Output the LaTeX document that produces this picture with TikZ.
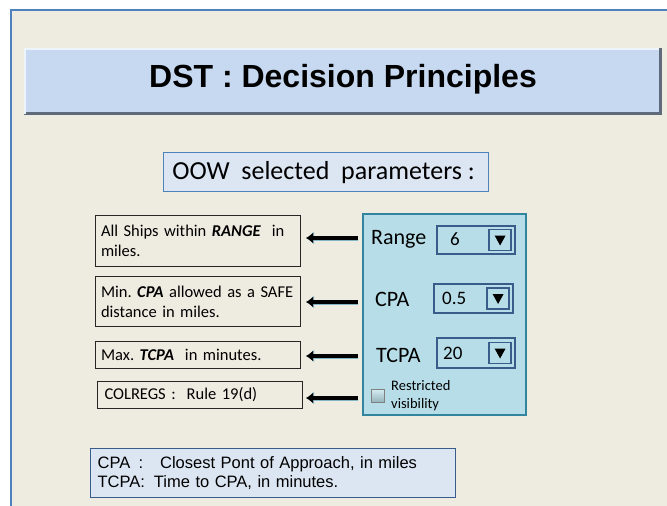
\documentclass[tikz,border=0pt]{standalone}
\usepackage{fontspec}
\setmainfont{Carlito}
\newfontfamily\arialf{Liberation Sans}
\usetikzlibrary{arrows.meta,calc}
\definecolor{bgc}{HTML}{EEECE1}
\definecolor{framec}{HTML}{4F81BD}
\definecolor{titlec}{HTML}{C6D9F1}
\definecolor{paleblue}{HTML}{DCE6F2}
\definecolor{panelc}{HTML}{B7DEE8}
\definecolor{panelb}{HTML}{31859C}
\definecolor{darkb}{HTML}{385D8A}
\definecolor{shadowc}{HTML}{5F6B7A}
\tikzset{
  titlebox/.style={fill=titlec, draw=none, anchor=north west, inner sep=0pt},
  parambox/.style={fill=paleblue, draw=framec, line width=1.2pt, anchor=north west, inner sep=0pt},
  infobox/.style={draw=black!85, line width=1pt, fill=bgc, anchor=north west, inner xsep=5.5pt, inner ysep=2pt, align=left, text width=194pt, font=\fontsize{16.5}{20}\selectfont\frenchspacing},
  panelbox/.style={fill=panelc, draw=panelb, line width=1.5pt, anchor=north west, inner sep=0pt},
  ddbox/.style={draw=darkb, line width=2pt, fill=panelc, anchor=north west, inner sep=0pt},
  btnbox/.style={draw=darkb, line width=1.8pt, fill=panelc, anchor=east, minimum width=22pt, minimum height=21pt, inner sep=0pt},
  lbl/.style={anchor=west, inner sep=0pt, font=\fontsize{22}{24}\selectfont},
  val/.style={anchor=west, inner sep=0pt, font=\fontsize{19}{22}\selectfont},
  arr/.style={draw=black, line width=3.6pt, -{Latex[length=7pt,width=11pt]}, preaction={draw=panelb!60, line width=5pt, -{Latex[length=8pt,width=13pt]}}},
  legendbox/.style={fill=paleblue, draw=darkb, line width=1.2pt, anchor=north west, inner xsep=7pt, inner ysep=2pt, align=left, font=\arialf\fontsize{16.5}{19.5}\selectfont\frenchspacing}
}
\begin{document}
\begin{tikzpicture}[x=1pt,y=-1pt]
\useasboundingbox (0,0) rectangle (667,506);
\fill[white] (0,0) rectangle (667,506);
\fill[bgc] (11,10) rectangle (667,506);
\draw[framec, line width=2pt] (11,506) -- (11,10) -- (667,10);

% title
\node (title) [titlebox, minimum width=638pt, minimum height=67pt] at (24,48) {};
\draw[shadowc, line width=3pt] ([yshift=1.5pt]title.south west) -- ([xshift=-1.5pt,yshift=1.5pt]title.south east) -- ([xshift=-1.5pt]title.north east);
\draw[white!70!titlec, line width=2pt] ([xshift=1pt,yshift=1pt]title.south west) -- ([xshift=1pt,yshift=-1pt]title.north west) -- ([xshift=-3pt,yshift=-1pt]title.north east);
\node (titletxt) [inner sep=0pt, font=\arialf\bfseries\fontsize{32}{34}\selectfont] at (343,79) {DST : Decision Principles};

% OOW box
\node (oow) [parambox, minimum width=325pt, minimum height=39pt] at (163,152) {};
\node (oowtxt) [inner sep=0pt, font=\fontsize{26}{28}\selectfont] at ([xshift=-2.5pt]oow.center) {OOW~ selected~ parameters :};

% info boxes
\node (b1) [infobox, minimum height=51pt] at (95,215) {All Ships within \textbf{\textit{RANGE}}~ in\\miles.};
\node (b2) [infobox, minimum height=50pt] at (95,276) {Min. \textbf{\textit{CPA}} allowed as a SAFE\\distance in miles.};
\node (b3) [infobox, minimum height=27pt] at (95,341) {Max. \textbf{\textit{TCPA}}~ in minutes.};
\node (b4) [infobox, minimum height=27pt, inner xsep=7pt, text width=191pt] at (97,381) {COLREGS :~ Rule 19(d)};

% panel
\node (panel) [panelbox, minimum width=163pt, minimum height=201pt] at (362,213) {};
\node (lrange) [lbl] at (371,239) {Range};
\node (lcpa) [lbl] at (375,299) {CPA};
\node (ltcpa) [lbl] at (376,355) {TCPA};

\node (dd1) [ddbox, minimum width=78pt, minimum height=28pt] at (436,225) {};
\node (dd2) [ddbox, minimum width=79pt, minimum height=29pt] at (433,283) {};
\node (dd3) [ddbox, minimum width=78pt, minimum height=30pt] at (436,337) {};
\node (v1) [val] at (450,239) {6};
\node (v2) [val] at (442,298.5) {0.5};
\node (v3) [val] at (443,353) {20};
\foreach \d in {1,2,3}{
  \node (btn\d) [btnbox] at ([xshift=-4pt]dd\d.east) {};
  \fill[black] ($(btn\d.center)+(-5.5,-4.5)$) -- ($(btn\d.center)+(5.5,-4.5)$) -- ($(btn\d.center)+(0,5.5)$) -- cycle;
}

% checkbox
\node (chk) [draw=black!50, line width=1pt, top color=panelc!60!white, bottom color=panelc!80!black, minimum size=13pt, inner sep=0pt, anchor=north west] at (371,389) {};
\node (chktxt) [anchor=west, inner sep=0pt, align=left, font=\fontsize{14.5}{17.5}\selectfont] at (391,395.5) {Restricted\\visibility};

% arrows
\draw[arr] ([xshift=-4pt]panel.west |- 0,238) -- ([xshift=5pt]b1.east |- 0,238);
\draw[arr] ([xshift=-4pt]panel.west |- 0,302) -- ([xshift=5pt]b2.east |- 0,302);
\draw[arr] ([xshift=-4pt]panel.west |- 0,356) -- ([xshift=5pt]b3.east |- 0,356);
\draw[arr] ([xshift=-4pt]panel.west |- 0,398) -- ([xshift=3pt]b4.east |- 0,398);

% legend
\node (legend) [legendbox, minimum width=365pt, minimum height=49pt, text width=351pt] at (90,448) {\makebox[41pt][l]{CPA}:\hspace{17pt}Closest Pont of Approach, in miles\\TCPA:\hspace{9pt}Time to CPA, in minutes.};
\end{tikzpicture}
\end{document}
